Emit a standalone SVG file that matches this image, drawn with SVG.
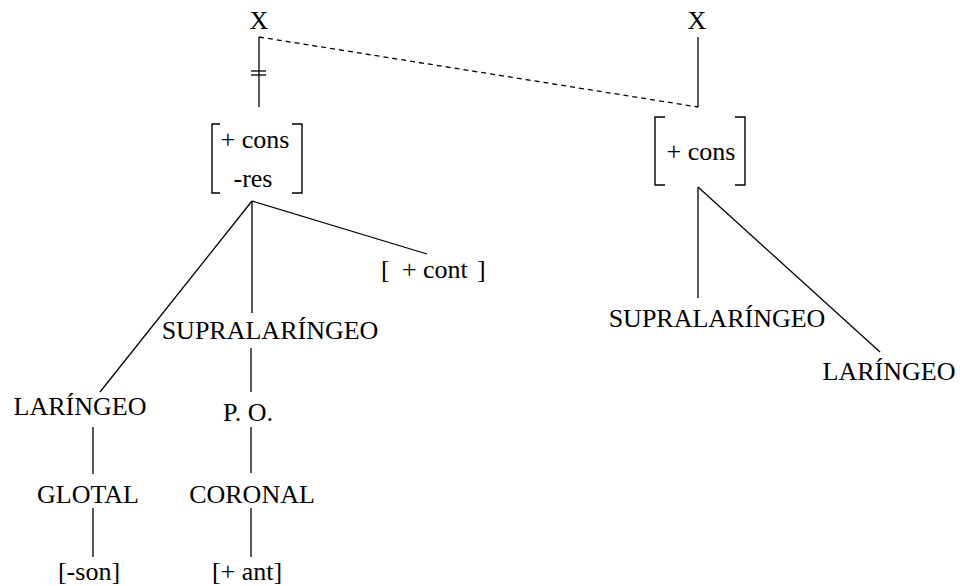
<svg xmlns="http://www.w3.org/2000/svg" width="960" height="586" viewBox="0 0 960 586">
  <style>
    .t { font-size: 26px; fill: #000; }
    .m { text-anchor: middle; }
    .ln { stroke: #000; stroke-width: 1.3; fill: none; }
    .dash { stroke-dasharray: 5 4; }
    .br { stroke: #000; stroke-width: 1.4; fill: none; }
  </style>
  <rect width="960" height="586" fill="#fff"/>

  <g id="connectors">
    <!-- timing tier -->
    <line class="ln" x1="259" y1="37" x2="259" y2="107"/>
    <line class="ln" x1="251" y1="71" x2="266" y2="71"/>
    <line class="ln" x1="251" y1="75" x2="266" y2="75"/>
    <line class="ln dash" x1="259" y1="37" x2="698" y2="107"/>
    <line class="ln" x1="698" y1="37" x2="698" y2="107"/>
    <!-- left tree -->
    <line class="ln" x1="252" y1="201" x2="100" y2="392"/>
    <line class="ln" x1="252" y1="201" x2="252" y2="313"/>
    <line class="ln" x1="252" y1="201" x2="427" y2="254"/>
    <line class="ln" x1="251" y1="348" x2="251" y2="392"/>
    <line class="ln" x1="251" y1="427" x2="251" y2="473"/>
    <line class="ln" x1="251" y1="508" x2="251" y2="557"/>
    <line class="ln" x1="93" y1="427" x2="93" y2="474"/>
    <line class="ln" x1="93" y1="508" x2="93" y2="557"/>
    <!-- right tree -->
    <line class="ln" x1="698" y1="187" x2="698" y2="298"/>
    <line class="ln" x1="698" y1="187" x2="880" y2="352"/>
  </g>

  <g font-family="Liberation Serif">
    <g id="x-left"><text class="t m" x="259" y="29">X</text></g>
    <g id="x-right"><text class="t m" x="697" y="29">X</text></g>

    <g id="matrix-left">
      <path class="br" d="M220,124 H212 V193 H220"/>
      <path class="br" d="M292,124 H302 V193 H292"/>
      <text class="t m" x="255" y="148">+ cons</text>
      <text class="t m" x="253" y="187">-res</text>
    </g>

    <g id="matrix-right">
      <path class="br" d="M665,117 H655 V185 H665"/>
      <path class="br" d="M735,117 H745 V185 H735"/>
      <text class="t m" x="701" y="160">+ cons</text>
    </g>

    <g id="cont">
      <text class="t" y="278"><tspan x="381">[</tspan><tspan x="402">+</tspan><tspan x="423">cont</tspan><tspan x="477">]</tspan></text>
    </g>

    <g id="supra-left"><text class="t m" x="270" y="339">SUPRALARÍNGEO</text></g>
    <g id="laringeo-left"><text class="t m" x="80" y="415">LARÍNGEO</text></g>
    <g id="po"><text class="t m" x="248" y="421">P. O.</text></g>
    <g id="glotal"><text class="t m" x="88" y="503">GLOTAL</text></g>
    <g id="coronal"><text class="t m" x="252" y="503">CORONAL</text></g>
    <g id="son"><text class="t m" x="89" y="580">[-son]</text></g>
    <g id="ant"><text class="t m" x="247" y="580">[+ ant]</text></g>

    <g id="supra-right"><text class="t m" x="717" y="327">SUPRALARÍNGEO</text></g>
    <g id="laringeo-right"><text class="t m" x="889" y="380">LARÍNGEO</text></g>
  </g>
</svg>
